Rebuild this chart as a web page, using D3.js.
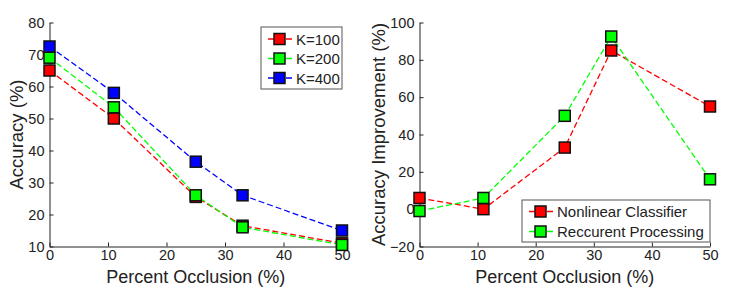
<!DOCTYPE html>
<html>
<head>
<meta charset="utf-8">
<script src="https://cdn.jsdelivr.net/npm/d3@7"></script>
<style>
  body { margin: 0; background: #fff; }
  text { font-family: "Liberation Sans", Arial, sans-serif; fill: #222; }
</style>
</head>
<body>
<svg id="chart" width="747" height="288"></svg>
<script>
// occlusion levels (%)
const occlusion = [0, 11, 25, 33, 50];

// left panel: accuracy per K
const accK100 = [65, 50, 25.5, 16.5, 11];
const accK200 = [69, 53.5, 26, 16, 10.5];
const accK400 = [72.5, 58, 36.5, 26, 15];

// right panel: accuracy improvement
const impNonlinear = [6, 0, 33, 85, 55];
const impRecurrent = [-1, 6, 50, 92.5, 16];

const xTicks = [0, 10, 20, 30, 40, 50];
const leftYTicks = [10, 20, 30, 40, 50, 60, 70, 80];
const rightYTicks = [-20, 0, 20, 40, 60, 80, 100];

const svg = d3.select('#chart');

function drawPanel(opts) {
  const x = d3.scaleLinear().domain([0, 50]).range([opts.x0, opts.x1]);
  const y = d3.scaleLinear().domain(opts.yDomain).range([opts.y1, opts.y0]);
  const g = svg.append('g');

  // axes (ticks pointing inward, MATLAB style)
  const xAxis = d3.axisBottom(x).tickValues(xTicks).tickSizeInner(-4).tickSizeOuter(0).tickPadding(3);
  const yAxis = d3.axisLeft(y).tickValues(opts.yTicks).tickSizeInner(-4).tickSizeOuter(0).tickPadding(5);

  const gx = g.append('g').attr('transform', `translate(0,${opts.y1})`).call(xAxis);
  const gy = g.append('g').attr('transform', `translate(${opts.x0},0)`).call(yAxis);
  [gx, gy].forEach(a => {
    a.select('.domain').attr('stroke', '#222');
    a.selectAll('.tick line').attr('stroke', '#222');
    a.selectAll('.tick text').style('font-size', '14.5px').attr('fill', '#222')
      .style('font-family', '"Liberation Sans", Arial, sans-serif');
  });

  g.append('text')
    .attr('x', (opts.x0 + opts.x1) / 2)
    .attr('y', 283)
    .attr('text-anchor', 'middle')
    .style('font-size', '18px')
    .text('Percent Occlusion (%)');

  g.append('text')
    .attr('transform', `translate(${opts.labelX},${(opts.y0 + opts.y1) / 2}) rotate(-90)`)
    .attr('text-anchor', 'middle')
    .style('font-size', '18.5px')
    .text(opts.yLabel);

  const line = d3.line().x((d, i) => x(occlusion[i])).y(d => y(d));

  opts.series.forEach(s => {
    g.append('path')
      .datum(s.values)
      .attr('fill', 'none')
      .attr('stroke', s.color)
      .attr('stroke-width', 1.3)
      .attr('stroke-dasharray', '6,3')
      .attr('d', line);
  });
  opts.series.forEach(s => {
    g.selectAll(null)
      .data(s.values)
      .enter()
      .append('rect')
      .attr('x', (d, i) => x(occlusion[i]) - 5.5)
      .attr('y', d => y(d) - 5.5)
      .attr('width', 11)
      .attr('height', 11)
      .attr('fill', s.color)
      .attr('stroke', '#111')
      .attr('stroke-width', 1.5);
  });

  // legend
  const lg = opts.legend;
  g.append('rect')
    .attr('x', lg.x).attr('y', lg.y)
    .attr('width', lg.w).attr('height', lg.h)
    .attr('fill', '#fff').attr('stroke', '#555').attr('stroke-width', 1);
  opts.series.forEach((s, i) => {
    const cy = lg.y + lg.first + i * lg.step;
    g.append('line')
      .attr('x1', lg.x + 7).attr('x2', lg.x + 31)
      .attr('y1', cy).attr('y2', cy)
      .attr('stroke', s.color).attr('stroke-width', 1.3)
      .attr('stroke-dasharray', '6,3');
    g.append('rect')
      .attr('x', lg.x + 13).attr('y', cy - 5.5)
      .attr('width', 11).attr('height', 11)
      .attr('fill', s.color).attr('stroke', '#111').attr('stroke-width', 1.5);
    g.append('text')
      .attr('x', lg.x + 35).attr('y', cy + 5.5)
      .style('font-size', '15px')
      .text(s.name);
  });
}

drawPanel({
  x0: 49.5, x1: 342, y0: 22.5, y1: 246.5,
  yDomain: [10, 80], yTicks: leftYTicks,
  yLabel: 'Accuracy (%)', labelX: 23,
  series: [
    { name: 'K=100', values: accK100, color: '#ff0000' },
    { name: 'K=200', values: accK200, color: '#00ff00' },
    { name: 'K=400', values: accK400, color: '#0000ff' }
  ],
  legend: { x: 261, y: 27, w: 81, h: 62, first: 12, step: 19.5 }
});

drawPanel({
  x0: 419.5, x1: 710, y0: 22.5, y1: 246.5,
  yDomain: [-20, 100], yTicks: rightYTicks,
  yLabel: 'Accuracy Improvement (%)', labelX: 385,
  series: [
    { name: 'Nonlinear Classifier', values: impNonlinear, color: '#ff0000' },
    { name: 'Reccurent Processing', values: impRecurrent, color: '#00ff00' }
  ],
  legend: { x: 522, y: 200, w: 188, h: 42, first: 11.5, step: 20 }
});
</script>
</body>
</html>
